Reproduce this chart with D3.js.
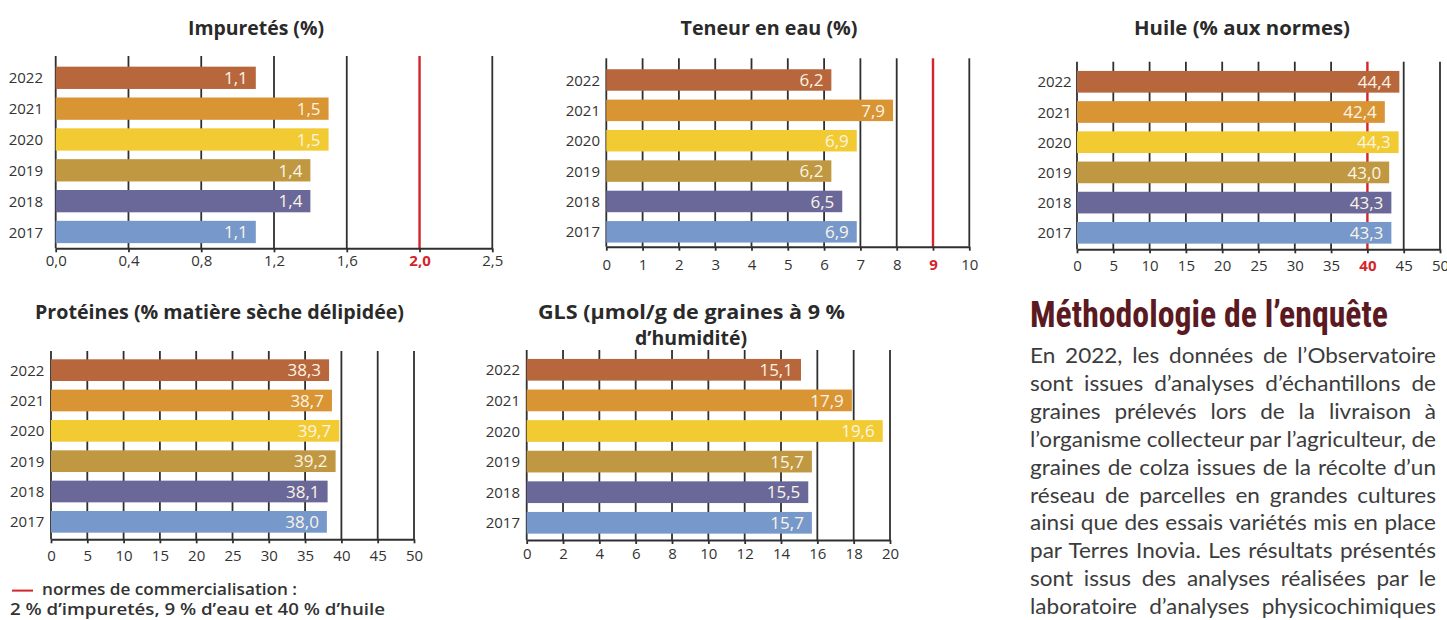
<!DOCTYPE html>
<html>
<head>
<meta charset="utf-8">
<script src="https://cdn.jsdelivr.net/npm/d3@7"></script>
<style>
  html, body { margin: 0; padding: 0; background: #fff; }
  svg { display: block; }
</style>
</head>
<body>
<svg id="chart" width="1447" height="620"></svg>
<script>
// ---------------- DATA ----------------
const years = ["2022", "2021", "2020", "2019", "2018", "2017"];
const yearColors = ["#b8673c", "#d99434", "#f2ca32", "#c09842", "#6a6898", "#7798cb"];

const impuretes = [1.1, 1.5, 1.5, 1.4, 1.4, 1.1];
const teneurEau = [6.2, 7.9, 6.9, 6.2, 6.5, 6.9];
const huile = [44.4, 42.4, 44.3, 43.0, 43.3, 43.3];
const proteines = [38.3, 38.7, 39.7, 39.2, 38.1, 38.0];
const gls = [15.1, 17.9, 19.6, 15.7, 15.5, 15.7];

const impTicks = [0, 0.4, 0.8, 1.2, 1.6, 2.0, 2.4];
const impTickLabels = ["0,0", "0,4", "0,8", "1,2", "1,6", "2,0", "2,5"];
const eauTicks = [0, 1, 2, 3, 4, 5, 6, 7, 8, 9, 10];
const eauTickLabels = ["0", "1", "2", "3", "4", "5", "6", "7", "8", "9", "10"];
const huileTicks = [0, 5, 10, 15, 20, 25, 30, 35, 40, 45, 50];
const huileTickLabels = ["0", "5", "10", "15", "20", "25", "30", "35", "40", "45", "50"];
const protTicks = [0, 5, 10, 15, 20, 25, 30, 35, 40, 45, 50];
const protTickLabels = ["0", "5", "10", "15", "20", "25", "30", "35", "40", "45", "50"];
const glsTicks = [0, 2, 4, 6, 8, 10, 12, 14, 16, 18, 20];
const glsTickLabels = ["0", "2", "4", "6", "8", "10", "12", "14", "16", "18", "20"];

const impNorm = 2.0;
const eauNorm = 9;
const huileNorm = 40;

const titleImp = ["Impuretés (%)"];
const titleEau = ["Teneur en eau (%)"];
const titleHuile = ["Huile (% aux normes)"];
const titleProt = ["Protéines (% matière sèche délipidée)"];
const titleGls = ["GLS (µmol/g de graines à 9 %", "d’humidité)"];

const legendLines = ["normes de commercialisation :", "2 % d’impuretés, 9 % d’eau et 40 % d’huile"];
const methodTitle = "Méthodologie de l’enquête";
const methodLines = [
  "En 2022, les données de l’Observatoire",
  "sont issues d’analyses d’échantillons de",
  "graines prélevés lors de la livraison à",
  "l’organisme collecteur par l’agriculteur, de",
  "graines de colza issues de la récolte d’un",
  "réseau de parcelles en grandes cultures",
  "ainsi que des essais variétés mis en place",
  "par Terres Inovia. Les résultats présentés",
  "sont issus des analyses réalisées par le",
  "laboratoire d’analyses physicochimiques"
];

// ---------------- LAYOUT ----------------
const charts = [
  { values: impuretes, ticks: impTicks, labels: impTickLabels, norm: impNorm,
    x0: 55.7, x1: 492.3, gridTop: 56, axisY: 248.3, bandTop: 62.4, bandBottom: 247.4, barH: 22.3,
    yearX: 43, tickY: 266, title: titleImp, titlePos: [[256, 35, 136]] },
  { values: teneurEau, ticks: eauTicks, labels: eauTickLabels, norm: eauNorm,
    x0: 606.3, x1: 969.3, gridTop: 58.3, axisY: 246.7, bandTop: 64.8, bandBottom: 247, barH: 21.5,
    yearX: 600, tickY: 270, title: titleEau, titlePos: [[769, 35, 177]] },
  { values: huile, ticks: huileTicks, labels: huileTickLabels, norm: huileNorm,
    x0: 1077, x1: 1440, gridTop: 61.7, axisY: 249.3, bandTop: 66.7, bandBottom: 247.9, barH: 21.7,
    yearX: 1071.7, tickY: 270.7, title: titleHuile, titlePos: [[1242, 35, 216]] },
  { values: proteines, ticks: protTicks, labels: protTickLabels, norm: null,
    x0: 51, x1: 414, gridTop: 351, axisY: 539.3, bandTop: 355, bandBottom: 537, barH: 21.7,
    yearX: 44.3, tickY: 561, title: titleProt, titlePos: [[219.5, 319, 369]] },
  { values: gls, ticks: glsTicks, labels: glsTickLabels, norm: null,
    x0: 526.7, x1: 890, gridTop: 350, axisY: 540, bandTop: 354.5, bandBottom: 538.1, barH: 21.7,
    yearX: 520, tickY: 559.3, title: titleGls, titlePos: [[691.5, 319.3, 307], [691, 345, 112]] }
];

const GRID = "#2f2f2f";
const RED = "#d3262b";
const TEXT = "#333333";
const LABEL = "#fbf4e6";
const FONT = "'Open Sans', 'Noto Sans', sans-serif";
const fmt = v => d3.format(".1f")(v).replace(".", ",");

const svg = d3.select("#chart");

charts.forEach(c => {
  const g = svg.append("g");
  const dom = [c.ticks[0], c.ticks[c.ticks.length - 1]];
  const x = d3.scaleLinear().domain(dom).range([c.x0, c.x1]);
  const step = (c.bandBottom - c.bandTop) / years.length;
  const pi = 1 - c.barH / step;
  const y = d3.scaleBand().domain(years).range([c.bandTop, c.bandBottom])
    .paddingInner(pi).paddingOuter(pi / 2);

  // gridlines
  g.append("g").selectAll("line")
    .data(c.ticks.filter(t => t !== c.norm))
    .join("line")
    .attr("x1", d => x(d)).attr("x2", d => x(d))
    .attr("y1", c.gridTop).attr("y2", c.axisY)
    .attr("stroke", GRID).attr("stroke-width", 1.8);

  // norm line (behind bars)
  if (c.norm !== null) {
    g.append("line")
      .attr("x1", x(c.norm)).attr("x2", x(c.norm))
      .attr("y1", c.gridTop).attr("y2", c.axisY)
      .attr("stroke", RED).attr("stroke-width", 2.4);
  }

  // bars
  g.append("g").selectAll("rect")
    .data(c.values)
    .join("rect")
    .attr("x", x(0))
    .attr("y", (d, i) => y(years[i]))
    .attr("width", d => x(d) - x(0))
    .attr("height", y.bandwidth())
    .attr("fill", (d, i) => yearColors[i]);

  // value labels
  g.append("g").selectAll("text")
    .data(c.values)
    .join("text")
    .attr("x", d => x(d) - 8)
    .attr("y", (d, i) => y(years[i]) + y.bandwidth() / 2 + 6.2)
    .attr("text-anchor", "end")
    .attr("font-family", FONT)
    .attr("font-size", 17)
    .attr("fill", LABEL)
    .text(d => fmt(d));

  // year labels
  g.append("g").selectAll("text")
    .data(years)
    .join("text")
    .attr("x", c.yearX)
    .attr("y", d => y(d) + y.bandwidth() / 2 + 5.6)
    .attr("text-anchor", "end")
    .attr("font-family", FONT)
    .attr("font-size", 15)
    .attr("fill", TEXT)
    .text(d => d);

  // axis
  const fs = 15;
  const tickSize = 4;
  const pad = (c.tickY - c.axisY) - 0.71 * fs - tickSize;
  const axis = d3.axisBottom(x)
    .tickValues(c.ticks)
    .tickFormat((d, i) => c.labels[i])
    .tickSizeInner(tickSize)
    .tickSizeOuter(0)
    .tickPadding(pad);
  const ag = g.append("g").attr("transform", `translate(0,${c.axisY})`).call(axis);
  ag.select(".domain").attr("stroke", GRID).attr("stroke-width", 2);
  ag.selectAll(".tick line").attr("stroke", GRID).attr("stroke-width", 1.8);
  ag.selectAll(".tick text")
    .attr("font-family", FONT)
    .attr("font-size", fs)
    .attr("fill", d => d === c.norm ? RED : TEXT)
    .attr("font-weight", d => d === c.norm ? 700 : 400);

  // title
  c.title.forEach((t, i) => {
    const [tx, ty, tw] = c.titlePos[i];
    g.append("text")
      .attr("x", tx).attr("y", ty)
      .attr("text-anchor", "middle")
      .attr("font-family", FONT)
      .attr("font-weight", 700)
      .attr("font-size", 20)
      .attr("fill", "#2a2a2a")
      .attr("textLength", tw)
      .attr("lengthAdjust", "spacingAndGlyphs")
      .text(t);
  });
});

// legend
const lg = svg.append("g");
lg.append("line").attr("x1", 12).attr("x2", 33).attr("y1", 590.6).attr("y2", 590.6)
  .attr("stroke", RED).attr("stroke-width", 2);
lg.append("text").attr("x", 42).attr("y", 594.5)
  .attr("font-family", FONT).attr("font-weight", 600).attr("font-size", 16)
  .attr("fill", TEXT).attr("textLength", 255).attr("lengthAdjust", "spacingAndGlyphs")
  .text(legendLines[0]);
lg.append("text").attr("x", 10).attr("y", 615)
  .attr("font-family", FONT).attr("font-weight", 600).attr("font-size", 16)
  .attr("fill", TEXT).attr("textLength", 375).attr("lengthAdjust", "spacingAndGlyphs")
  .text(legendLines[1]);

// methodology
const mg = svg.append("g");
mg.append("text").attr("x", 1030).attr("y", 326.7)
  .attr("font-family", "'Liberation Sans Narrow', 'Roboto Condensed', 'Liberation Sans', sans-serif")
  .attr("font-weight", 700).attr("font-size", 36)
  .attr("fill", "#5b1a1f")
  .attr("textLength", 358).attr("lengthAdjust", "spacingAndGlyphs")
  .text(methodTitle);

const W = 406;      // justified line width
const SX = 1.1;     // horizontal stretch to mimic the wide geometric face
methodLines.forEach((t, i) => {
  const el = mg.append("text")
    .attr("transform", `translate(1030,${363.3 + i * 27.85}) scale(${SX},1)`)
    .attr("x", 0).attr("y", 0)
    .attr("font-family", "Lato, 'Open Sans', sans-serif")
    .attr("font-size", 20.5)
    .attr("fill", "#3c3c3c")
    .text(t);
  const w = el.node().getComputedTextLength();
  const target = W / SX;
  const spaces = (t.match(/ /g) || []).length;
  if (w < target && spaces > 0) {
    el.style("word-spacing", ((target - w) / spaces) + "px");
  } else {
    el.style("letter-spacing", ((target - w) / t.length) + "px");
  }
});
</script>
</body>
</html>
